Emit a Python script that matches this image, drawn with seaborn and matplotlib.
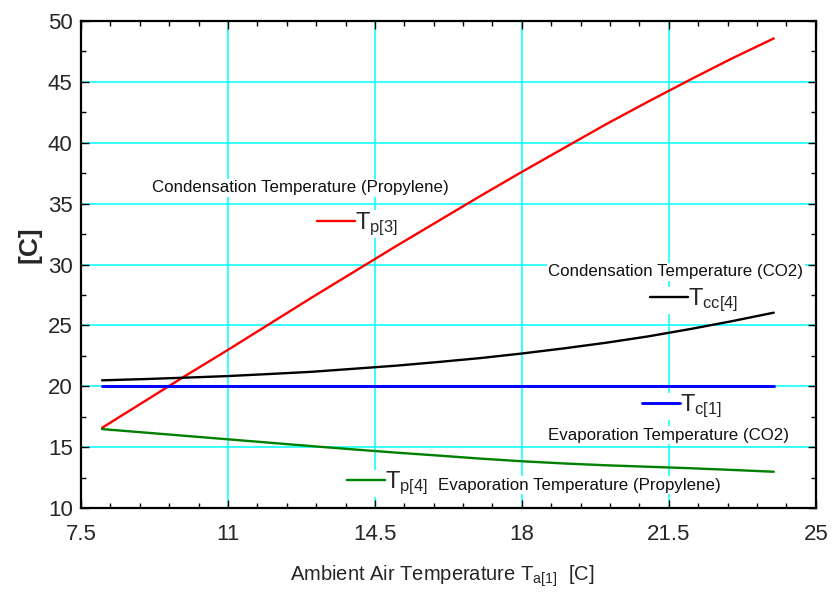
import numpy as np
import pandas as pd
import matplotlib
matplotlib.use("Agg")
import matplotlib.pyplot as plt
import seaborn as sns

# Ambient air temperature T_a[1] [C]
t_ambient = [8, 9, 10, 11, 12, 13, 14, 15, 16, 17, 18, 19, 20, 21, 22, 23, 24]

# Propylene condensation temperature T_p[3]
t_p3 = [16.6, 18.75, 20.9, 23.0, 25.15, 27.3, 29.4, 31.5, 33.55, 35.6,
        37.6, 39.55, 41.5, 43.35, 45.15, 46.9, 48.55]
# CO2 condensation temperature T_cc[4]
t_cc4 = [20.5, 20.6, 20.72, 20.85, 21.02, 21.2, 21.45, 21.7, 22.0, 22.32,
         22.7, 23.12, 23.58, 24.1, 24.7, 25.35, 26.05]
# CO2 evaporation temperature T_c[1]
t_c1 = [20.0] * 17
# Propylene evaporation temperature T_p[4]
t_p4 = [16.5, 16.22, 15.94, 15.66, 15.38, 15.1, 14.83, 14.57, 14.33, 14.08,
        13.86, 13.68, 13.53, 13.41, 13.29, 13.15, 13.0]

x_ticks = [7.5, 11, 14.5, 18, 21.5, 25]
x_tick_labels = ["7.5", "11", "14.5", "18", "21.5", "25"]
y_ticks = [10, 15, 20, 25, 30, 35, 40, 45, 50]
y_tick_labels = ["10", "15", "20", "25", "30", "35", "40", "45", "50"]

sns.set_style("ticks")
plt.rcParams["font.family"] = ["Liberation Sans", "DejaVu Sans"]
plt.rcParams["mathtext.fontset"] = "custom"
plt.rcParams["mathtext.rm"] = "Liberation Sans"
plt.rcParams["mathtext.it"] = "Liberation Sans:italic"
plt.rcParams["mathtext.bf"] = "Liberation Sans:bold"

df = pd.DataFrame({
    "Ta": t_ambient,
    "Tp3": t_p3,
    "Tcc4": t_cc4,
    "Tc1": t_c1,
    "Tp4": t_p4,
})

fig = plt.figure(figsize=(8.32, 5.99), dpi=100)
ax = fig.add_axes([0.0974, 0.1514, 0.8831, 0.8140])

series = [
    ("Tp3", "#FF0000", 1.7, r"T$_{\mathrm{p[3]}}$", (13.11, 33.32)),
    ("Tcc4", "#000000", 1.7, r"T$_{\mathrm{cc[4]}}$", (21.05, 27.03)),
    ("Tc1", "#0000FF", 2.1, r"T$_{\mathrm{c[1]}}$", (20.85, 18.37)),
    ("Tp4", "#008000", 1.7, r"T$_{\mathrm{p[4]}}$", (13.83, 12.05)),
]

handles = {}
for col, color, lw, label, anchor in series:
    sns.lineplot(data=df, x="Ta", y=col, color=color, linewidth=lw, ax=ax,
                 zorder=3)
    handles[col] = ax.lines[-1]

ax.set_xlim(7.5, 25)
ax.set_ylim(10, 50)
ax.set_xticks(x_ticks)
ax.set_xticklabels(x_tick_labels)
ax.set_yticks(y_ticks)
ax.set_yticklabels(y_tick_labels)
ax.set_xticks(np.arange(7.5, 25.01, 0.7), minor=True)
ax.set_yticks(np.arange(10, 50.01, 2.5), minor=True)

ax.tick_params(axis="both", which="both", direction="in",
               top=True, right=True, width=1.0, color="black")
ax.tick_params(axis="both", which="major", length=6, labelsize=16)
ax.tick_params(axis="both", which="minor", length=3.6)
ax.tick_params(axis="x", which="major", pad=11)
ax.tick_params(axis="y", which="major", pad=6)

ax.grid(True, which="major", color="#00FFFF", linewidth=1.1)
ax.set_axisbelow(True)
for sp in ax.spines.values():
    sp.set_linewidth(1.6)
    sp.set_color("black")

ax.set_xlabel(r"Ambient Air Temperature T$_{\mathrm{a[1]}}$  [C]", fontsize=14.5)
ax.xaxis.set_label_coords(0.492, -0.149)
ax.xaxis.label.set_va("baseline")
ax.set_ylabel("[C]", fontsize=19, fontweight="bold")
ax.yaxis.set_label_coords(-0.070, 0.541)
ax.yaxis.label.set_va("center")

# Series keys, each placed next to its curve
for col, color, lw, label, anchor in series:
    leg = ax.legend([handles[col]], [label], loc="center left",
                    bbox_to_anchor=anchor, bbox_transform=ax.transData,
                    fontsize=17, handlelength=1.62, handletextpad=0.0,
                    borderpad=0.0, borderaxespad=0.0, frameon=True,
                    fancybox=False, framealpha=1.0, edgecolor="none",
                    facecolor="white")
    leg.set_zorder(4)
    ax.add_artist(leg)

box = dict(facecolor="white", edgecolor="none", pad=1.0)
notes = [
    ("Condensation Temperature (Propylene)", 9.18, 36.3),
    ("Condensation Temperature (CO2)", 18.63, 29.4),
    ("Evaporation Temperature (CO2)", 18.63, 16.0),
    ("Evaporation Temperature (Propylene)", 16.0, 11.9),
]
for text, tx, ty in notes:
    ax.text(tx, ty, text, fontsize=12.2, ha="left", va="center",
            color="#111111", bbox=box, zorder=5)

fig.savefig("out.png", dpi=100)
